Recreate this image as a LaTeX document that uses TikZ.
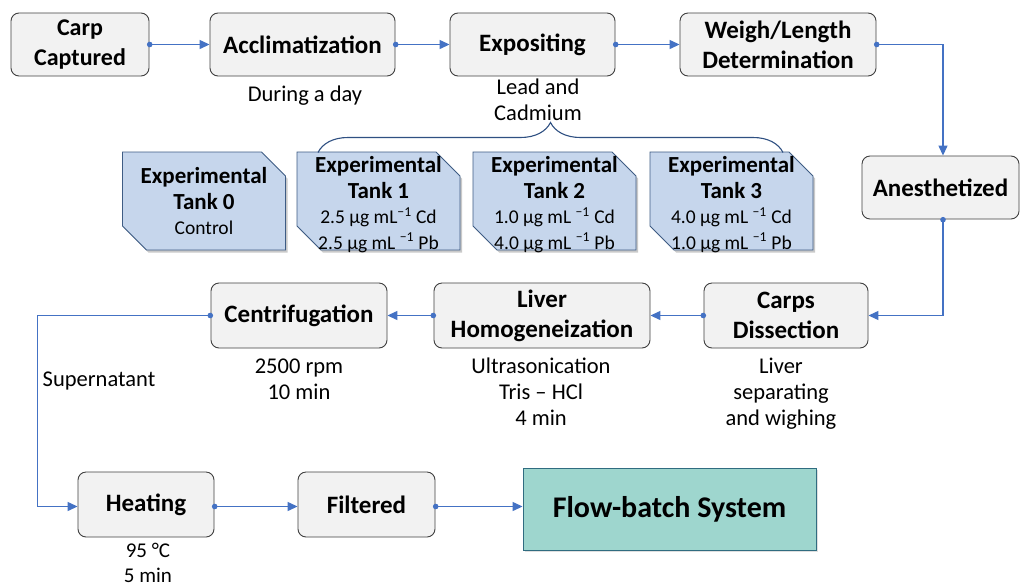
\documentclass[tikz,border=0pt]{standalone}
\usepackage{fontspec}
\setmainfont{Carlito}
\usetikzlibrary{arrows.meta,shapes.misc,decorations.pathreplacing,shadows}
\definecolor{boxfill}{RGB}{242,242,242}
\definecolor{boxline}{RGB}{64,64,64}
\definecolor{conn}{RGB}{68,114,196}
\definecolor{tankfill}{RGB}{198,214,236}
\definecolor{tankline}{RGB}{62,92,132}
\definecolor{flowfill}{RGB}{158,214,206}
\definecolor{flowline}{RGB}{48,108,128}
\definecolor{bracecol}{RGB}{47,80,130}
\newcommand\tankhead[1]{{\bfseries\fontsize{23}{26.5}\selectfont #1}}
\tikzset{
  stepbox/.style={draw=boxline, fill=boxfill, rounded corners=8pt, line width=0.9pt,
    align=center, inner sep=0pt, font=\bfseries\fontsize{25}{30}\selectfont},
  tankbox/.style={chamfered rectangle, chamfered rectangle corners={north east,south west},
    chamfered rectangle xsep=12pt, chamfered rectangle ysep=12pt,
    draw=tankline, fill=tankfill, line width=0.9pt, align=center, inner sep=0pt,
    minimum width=163pt, minimum height=98pt,
    drop shadow={shadow xshift=2pt, shadow yshift=-2.5pt, opacity=0.35, fill=black!60},
    font=\fontsize{19.5}{25.5}\selectfont},
  flowbox/.style={draw=flowline, fill=flowfill, line width=0.9pt, align=center,
    inner sep=0pt, font=\bfseries\fontsize{30}{34}\selectfont,
    drop shadow={shadow xshift=1.5pt, shadow yshift=-1.5pt, opacity=0.25, fill=black!50}},
  note/.style={align=center, inner sep=0pt, font=\fontsize{22.5}{26}\selectfont},
  conn/.style={draw=conn, line width=1.3pt,
    {Circle[length=5.5pt]}-{Triangle[length=10pt,width=9pt]}, shorten <=-2.5pt}
}
\begin{document}
\begin{tikzpicture}[x=1pt,y=-1pt]
\useasboundingbox[fill=white] (0,0) rectangle (1020,587);

% process boxes
\node[stepbox, minimum width=138pt, minimum height=63pt, font=\bfseries\fontsize{24}{30}\selectfont] (carp) at (80,44.5) {Carp\\Captured};
\node[stepbox, minimum width=185pt, minimum height=63pt] (accl) at (302.5,44.5) {Acclimatization};
\node[stepbox, minimum width=165pt, minimum height=63pt] (expo) at (532.5,44.5) {Expositing};
\node[stepbox, minimum width=196pt, minimum height=63pt] (weigh) at (778,44.5) {Weigh/Length\\Determination};
\node[stepbox, minimum width=157pt, minimum height=63pt] (anes) at (940.5,187.5) {Anesthetized};
\node[stepbox, minimum width=164pt, minimum height=65pt] (diss) at (786,315.5) {Carps\\Dissection};
\node[stepbox, minimum width=216pt, minimum height=65pt] (liver) at (542,315.5) {Liver\\Homogeneization};
\node[stepbox, minimum width=176pt, minimum height=65pt] (centr) at (299,315.5) {Centrifugation};
\node[stepbox, minimum width=136pt, minimum height=65pt] (heat) at (146,504.5) {Heating};
\node[stepbox, minimum width=137pt, minimum height=65pt] (filt) at (366.5,504.5) {Filtered};
\node[flowbox, minimum width=293pt, minimum height=82pt] (flow) at (669.5,509) {Flow-batch System};

% tanks
\node[tankbox] (t0) at (204,201) {\tankhead{Experimental}\\\tankhead{Tank 0}\\Control};
\node[tankbox, inner ysep=-16pt] (t1) at (378.5,201) {\tankhead{\rule{0pt}{23pt}Experimental}\\\tankhead{Tank 1}\\2.5 µg mL\textsuperscript{−1} Cd\\2.5 µg mL \textsuperscript{−1} Pb};
\node[tankbox, inner ysep=-16pt] (t2) at (554.5,201) {\tankhead{\rule{0pt}{23pt}Experimental}\\\tankhead{Tank 2}\\1.0 µg mL \textsuperscript{−1} Cd\\4.0 µg mL \textsuperscript{−1} Pb};
\node[tankbox, inner ysep=-16pt] (t3) at (731.5,201) {\tankhead{\rule{0pt}{23pt}Experimental}\\\tankhead{Tank 3}\\4.0 µg mL \textsuperscript{−1} Cd\\1.0 µg mL \textsuperscript{−1} Pb};

% brace
\coordinate (bl) at (318,152.5);
\coordinate (br) at (783,152.5);
\draw[bracecol, line width=1.1pt, decorate, decoration={brace, amplitude=30pt}] (bl) -- (br);

% notes
\node[note] (n1) at (305,96) {During a day};
\node[note] (n2) at (538,100) {Lead and\\Cadmium};
\node[note] (n3) at (299,379) {2500 rpm\\10 min};
\node[note] (n4) at (541,392) {Ultrasonication\\Tris – HCl\\4 min};
\node[note] (n5) at (781,394) {Liver\\separating\\and wighing};
\node[note, font=\fontsize{21}{25}\selectfont] (n6) at (148,563) {95 °C\\5 min};
\node[note, anchor=west] (n7) at (42.5,381) {Supernatant};

% connectors
\coordinate (lft) at (37.5,400);
\draw[conn] (carp.east) -- (accl.west);
\draw[conn] (accl.east) -- (expo.west);
\draw[conn] (expo.east) -- (weigh.west);
\draw[conn] (weigh.east) -| ([xshift=2.5pt]anes.north);
\draw[conn] ([xshift=2.5pt]anes.south) |- (diss.east);
\draw[conn] (diss.west) -- (liver.east);
\draw[conn] (liver.west) -- (centr.east);
\draw[conn] (centr.west) -| (lft) |- ([yshift=-2pt]heat.west);
\draw[conn] ([yshift=-2pt]heat.east) -- ([yshift=-2pt]filt.west);
\draw[conn] ([yshift=-2pt]filt.east) -- ([yshift=-2pt]filt.east -| flow.west);
\end{tikzpicture}
\end{document}
